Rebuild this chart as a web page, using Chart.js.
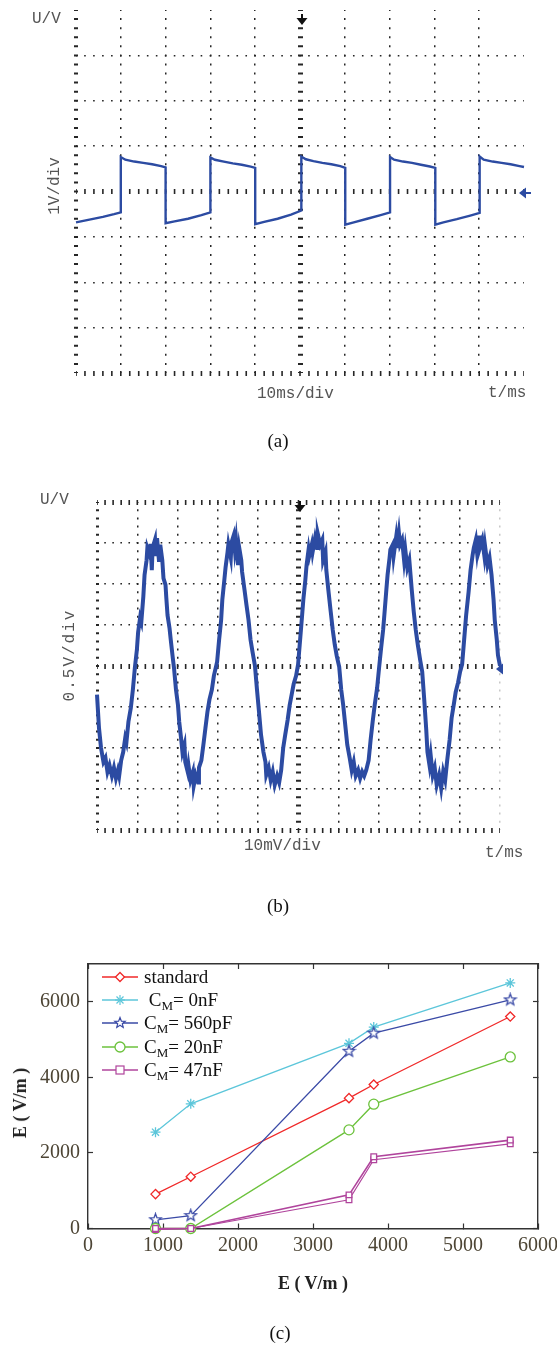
<!DOCTYPE html>
<html>
<head>
<meta charset="utf-8">
<title>Oscilloscope traces and field response</title>
<script src="https://cdn.jsdelivr.net/npm/chart.js@4.4.0/dist/chart.umd.min.js"></script>
<style>
  html, body { margin: 0; padding: 0; background: #fff; }
  #page { position: relative; width: 557px; height: 1345px; overflow: hidden; }
  canvas { position: absolute; left: 0; }
  .lbl { position: absolute; font-family: 'Liberation Mono', monospace; font-size: 16px; color: #555; white-space: nowrap; line-height: 1; }
  .rot { transform: translate(-50%, -50%) rotate(-90deg); }
  .cap { position: absolute; font-family: 'Liberation Serif', serif; font-size: 19px; color: #111; transform: translate(-50%, -50%); line-height: 1; white-space: nowrap; }
  .axt { position: absolute; font-family: 'Liberation Serif', serif; font-weight: bold; font-size: 18px; color: #222; white-space: nowrap; line-height: 1; }
  .legend { position: absolute; left: 102px; top: 965px; font-family: 'Liberation Serif', serif; font-size: 19px; color: #111; }
  .legend .row { height: 23.3px; display: flex; align-items: center; white-space: nowrap; }
  .legend svg { width: 36px; height: 14px; margin-right: 6px; flex: none; }
  .legend sub { font-size: 13px; vertical-align: -4px; line-height: 0; }
  .mk { position: absolute; }
</style>
</head>
<body>
<div id="page">
  <canvas id="chartA" width="557" height="460" style="top:0px"></canvas>
  <canvas id="chartB" width="557" height="460" style="top:460px"></canvas>
  <canvas id="chartC" width="557" height="425" style="top:920px"></canvas>

  <!-- panel (a) texts -->
  <div class="lbl" style="left:32px; top:11px;">U/V</div>
  <div class="lbl rot" style="left:55px; top:186px;">1V/div</div>
  <div class="lbl" style="left:257px; top:386px;">10ms/div</div>
  <div class="lbl" style="left:488px; top:385px;">t/ms</div>
  <div class="cap" style="left:278px; top:440px;">(a)</div>
  <svg class="mk" style="left:296px; top:14px" width="12" height="12" viewBox="0 0 12 12"><rect x="5" y="0" width="2" height="5" fill="#111"/><polygon points="0.5,4 11.5,4 6,11" fill="#111"/></svg>
  <svg class="mk" style="left:518px; top:187px" width="14" height="12" viewBox="0 0 14 12"><polygon points="1,6 8,0.5 8,11.5" fill="#2c4ba2"/><rect x="7" y="5" width="6" height="2" fill="#2c4ba2"/></svg>

  <!-- panel (b) texts -->
  <div class="lbl" style="left:40px; top:492px;">U/V</div>
  <div class="lbl rot" style="left:70px; top:655px; letter-spacing:2px;">0.5V/div</div>
  <div class="lbl" style="left:244px; top:838px;">10mV/div</div>
  <div class="lbl" style="left:485px; top:845px;">t/ms</div>
  <div class="cap" style="left:278px; top:905px;">(b)</div>
  <svg class="mk" style="left:294px; top:501px" width="12" height="12" viewBox="0 0 12 12"><rect x="5" y="0" width="2" height="5" fill="#111"/><polygon points="0.5,4 11.5,4 6,11" fill="#111"/></svg>
  <svg class="mk" style="left:495px; top:663px" width="10" height="12" viewBox="0 0 10 12"><polygon points="1,6 8,0.5 8,11.5" fill="#2c4ba2"/></svg>

  <!-- panel (c) texts -->
  <div class="axt rot" style="left:20px; top:1103px;">E ( V/m )</div>
  <div class="axt" style="left:313px; top:1283px; transform:translate(-50%,-50%);">E ( V/m )</div>
  <div class="cap" style="left:280px; top:1332px;">(c)</div>

  <div class="legend">
    <div class="row"><svg viewBox="0 0 36 14"><line x1="0" y1="7" x2="36" y2="7" stroke="#f02828" stroke-width="1.4"/><polygon points="18,2.5 22.5,7 18,11.5 13.5,7" fill="#fff" stroke="#f02828" stroke-width="1.3"/></svg><span>standard</span></div>
    <div class="row"><svg viewBox="0 0 36 14"><line x1="0" y1="7" x2="36" y2="7" stroke="#5cc6da" stroke-width="1.4"/><g stroke="#5cc6da" stroke-width="1.2"><line x1="18" y1="2" x2="18" y2="12"/><line x1="13" y1="7" x2="23" y2="7"/><line x1="14.5" y1="3.5" x2="21.5" y2="10.5"/><line x1="14.5" y1="10.5" x2="21.5" y2="3.5"/></g></svg><span>&nbsp;C<sub>M</sub>= 0nF</span></div>
    <div class="row"><svg viewBox="0 0 36 14"><line x1="0" y1="7" x2="36" y2="7" stroke="#3a4aa6" stroke-width="1.4"/><polygon points="18,1.5 19.4,5.1 23.2,5.3 20.3,7.7 21.2,11.4 18,9.3 14.8,11.4 15.7,7.7 12.8,5.3 16.6,5.1" fill="#fff" stroke="#3a4aa6" stroke-width="1.2"/></svg><span>C<sub>M</sub>= 560pF</span></div>
    <div class="row"><svg viewBox="0 0 36 14"><line x1="0" y1="7" x2="36" y2="7" stroke="#6cc23c" stroke-width="1.4"/><circle cx="18" cy="7" r="5" fill="#fff" stroke="#6cc23c" stroke-width="1.3"/></svg><span>C<sub>M</sub>= 20nF</span></div>
    <div class="row"><svg viewBox="0 0 36 14"><line x1="0" y1="7" x2="36" y2="7" stroke="#b0449c" stroke-width="1.4"/><rect x="14" y="3" width="8" height="8" fill="#fff" stroke="#b0449c" stroke-width="1.2"/></svg><span>C<sub>M</sub>= 47nF</span></div>
  </div>
</div>

<script>
// (a) square-wave trace: time in ms (10 ms/div), voltage in V (1 V/div)
const aTime = [0, 3, 6, 8.5, 10, 10, 11, 13, 15, 17, 19, 20, 20, 22, 25, 28, 30, 30,
  31, 33, 35, 37, 39, 40, 40, 42, 45, 48, 50.3, 50.3, 51.3, 53, 55, 57, 59, 60.1, 60.1,
  62, 65, 68, 70.1, 70.1, 71, 73, 75, 77, 79, 80.2, 80.2, 82, 85, 88, 90.1, 90.1,
  91, 93, 95, 97, 99, 100];
const aVolt = [-0.68, -0.62, -0.56, -0.50, -0.46, 0.76, 0.70, 0.66, 0.63, 0.60, 0.56, 0.53, -0.70, -0.66, -0.60, -0.52, -0.46, 0.75,
  0.70, 0.66, 0.62, 0.59, 0.55, 0.52, -0.72, -0.67, -0.60, -0.51, -0.42, 0.77, 0.71, 0.67, 0.63, 0.60, 0.56, 0.52, -0.73,
  -0.68, -0.60, -0.52, -0.46, 0.76, 0.70, 0.66, 0.63, 0.59, 0.55, 0.52, -0.73, -0.68, -0.61, -0.53, -0.47, 0.77,
  0.70, 0.66, 0.63, 0.60, 0.56, 0.54];

// (b) noisy sine trace: time in ms, voltage in V (0.5 V/div)
const bTime = [0, 0.5, 1.0, 1.6, 2.1, 2.6, 3.1, 3.7, 4.2, 4.7, 5.2, 5.5, 6.0, 6.5, 7.0, 7.3, 7.8, 8.4, 8.9, 9.4,
  9.9, 10.2, 10.7, 11.0, 11.5, 11.8, 12.3, 12.5, 13.1, 13.3, 13.6, 13.8, 14.4, 14.6, 14.9, 15.4, 15.7, 16.2, 16.5,
  17.0, 17.2, 17.5, 18.0, 18.3, 18.8, 19.1, 19.6, 20.1, 20.4, 20.9, 21.2, 21.7, 21.9, 22.5, 22.7, 23.2, 23.8, 24.0,
  24.5, 25.1, 25.3, 25.9, 26.4, 26.9, 27.4, 27.9, 28.5, 29.0, 29.8, 30.3, 30.8, 31.1, 31.6, 31.9, 32.4, 32.6, 33.2,
  33.4, 33.9, 34.2, 34.5, 35.0, 35.3, 35.8, 36.0, 36.6, 37.1, 37.6, 38.1, 38.6, 39.2, 39.7, 40.2, 40.7, 41.3, 41.8,
  42.0, 42.6, 43.1, 43.6, 44.1, 44.7, 45.2, 45.7, 46.2, 46.7, 47.3, 47.8, 48.3, 48.8, 49.4, 49.9, 50.4, 50.9, 51.2,
  51.7, 52.0, 52.5, 52.7, 53.3, 53.5, 54.1, 54.6, 54.8, 55.4, 55.9, 56.1, 56.7, 56.9, 57.4, 58.0, 58.5, 59.0, 59.5,
  60.1, 60.6, 61.1, 61.6, 62.1, 62.7, 63.2, 63.7, 64.2, 64.8, 65.3, 65.8, 66.3, 66.8, 67.4, 67.9, 68.4, 68.9, 69.5,
  70.0, 70.5, 71.0, 71.3, 71.8, 72.1, 72.6, 72.8, 73.4, 73.6, 74.2, 74.4, 74.9, 75.2, 75.7, 76.2, 76.5, 77.0, 77.5,
  78.1, 78.6, 79.1, 79.6, 80.2, 80.7, 81.2, 81.7, 82.0, 82.5, 82.8, 83.3, 83.8, 84.3, 84.9, 85.4, 85.9, 86.4, 86.9,
  87.5, 88.0, 88.5, 89.0, 89.6, 90.1, 90.6, 91.1, 91.6, 92.2, 92.7, 93.2, 93.5, 94.0, 94.3, 94.8, 95.0, 95.6, 96.1,
  96.3, 96.9, 97.4, 97.9, 98.4, 98.7, 99.2, 99.5, 100];
const bVolt = [-0.35, -0.76, -1.00, -1.17, -1.12, -1.29, -1.21, -1.34, -1.24, -1.37, -1.27, -1.34, -1.15, -1.05, -0.88, -0.93, -0.68, -0.51, -0.29, -0.02,
  0.20, 0.41, 0.59, 0.54, 0.85, 1.11, 1.29, 1.44, 1.35, 1.49, 1.17, 1.44, 1.54, 1.34, 1.56, 1.27, 1.48, 1.29, 1.07,
  0.99, 0.83, 0.62, 0.46, 0.32, 0.10, -0.02, -0.29, -0.48, -0.68, -0.90, -1.05, -0.96, -1.17, -1.29, -1.21, -1.39, -1.29, -1.46,
  -1.33, -1.42, -1.24, -1.15, -0.96, -0.76, -0.56, -0.41, -0.29, -0.12, 0.05, 0.32, 0.56, 0.81, 1.05, 1.20, 1.39, 1.48, 1.32,
  1.51, 1.59, 1.42, 1.54, 1.23, 1.44, 1.29, 1.15, 0.93, 0.74, 0.56, 0.32, 0.17, 0, -0.29, -0.56, -0.84, -1.05, -1.17,
  -1.33, -1.24, -1.39, -1.29, -1.45, -1.34, -1.42, -1.27, -1.00, -0.84, -0.66, -0.48, -0.35, -0.22, -0.12, 0.02, 0.32, 0.62, 0.81,
  1.05, 1.23, 1.42, 1.35, 1.48, 1.39, 1.56, 1.44, 1.61, 1.48, 1.54, 1.29, 1.39, 1.17, 0.93, 0.66, 0.44, 0.26, 0.12,
  -0.01, -0.29, -0.48, -0.72, -0.96, -1.12, -1.27, -1.17, -1.34, -1.27, -1.37, -1.29, -1.34, -1.27, -1.15, -0.90, -0.68, -0.48, -0.27,
  -0.02, 0.22, 0.44, 0.62, 0.93, 1.11, 1.32, 1.42, 1.48, 1.34, 1.56, 1.44, 1.63, 1.48, 1.54, 1.29, 1.42, 1.20, 1.29,
  0.93, 0.66, 0.44, 0.26, 0.07, -0.07, -0.41, -0.78, -1.05, -1.21, -1.09, -1.33, -1.24, -1.45, -1.33, -1.49, -1.29, -1.39, -1.15,
  -0.90, -0.63, -0.48, -0.32, -0.20, -0.07, 0.02, 0.32, 0.62, 0.90, 1.17, 1.35, 1.44, 1.54, 1.39, 1.59, 1.44, 1.54, 1.35,
  1.46, 1.23, 1.32, 1.11, 0.81, 0.56, 0.32, 0.13, 0];

// (c) measured field E (V/m) against applied field E (V/m)
const seriesNames = ['standard', 'CM=0nF', 'CM=560pF', 'CM=20nF', 'CM=47nF'];
const eApplied = [900, 1370, 3480, 3810, 5630];
const eStandard = [910, 1370, 3450, 3810, 5610];
const eCm0 = [2550, 3300, 4900, 5330, 6500];
const eCm560 = [230, 340, 4690, 5170, 6050];
const eCm20 = [0, 0, 2610, 3290, 4540];
const eCm47 = [0, 0, 890, 1900, 2340];
const eCm47Repeat = [-30, 0, 760, 1820, 2240];
const xTicksC = [0, 1000, 2000, 3000, 4000, 5000, 6000];
const yTicksC = [0, 2000, 4000, 6000];

Chart.defaults.font.family = "'Liberation Serif', serif";

const INK = '#262626';
const TRACE = '#2c4ba2';

function scopeChart(id, time, volt, cfg) {
  const w = 557 - cfg.pad.left - cfg.pad.right;
  const h = cfg.height - cfg.pad.top - cfg.pad.bottom;
  const subX = w / 50, subY = h / 40;
  return new Chart(document.getElementById(id), {
    type: 'line',
    data: {
      datasets: [{
        data: time.map((t, i) => ({ x: t, y: volt[i] })),
        borderColor: TRACE, borderWidth: cfg.trace, pointRadius: 0, tension: 0, clip: 4
      }]
    },
    options: {
      responsive: false, animation: false, events: [],
      layout: { padding: cfg.pad },
      plugins: { legend: { display: false }, tooltip: { enabled: false } },
      scales: {
        x: {
          type: 'linear', min: 0, max: 100,
          ticks: { display: false, stepSize: 10 },
          grid: {
            drawTicks: false,
            color: c => (c.tick ? cfg.xColor(c.tick.value) : INK),
            lineWidth: c => (c.tick ? cfg.xWidth(c.tick.value) : 1)
          },
          border: { display: false, dash: [2, subY - 2], dashOffset: 1 }
        },
        y: {
          type: 'linear', min: cfg.yMin, max: -cfg.yMin,
          ticks: { display: false, stepSize: cfg.yStep },
          grid: {
            drawTicks: false,
            color: INK,
            lineWidth: c => (c.tick ? cfg.yWidth(c.tick.value) : 1)
          },
          border: { display: false, dash: [1.6, subX - 1.6], dashOffset: 0.8 }
        }
      }
    }
  });
}

// (a) 10 x 8 divisions
scopeChart('chartA', aTime, aVolt, {
  height: 460, pad: { left: 76, right: 33, top: 10, bottom: 87 },
  yMin: -4, yStep: 1, trace: 2.4,
  xColor: v => INK,
  xWidth: v => (v === 0 ? 4 : v === 50 ? 5 : v === 100 ? 0 : 1.5),
  yWidth: v => (v === 0 || v === -4 ? 5 : v === 4 ? 0 : 1.5)
});

// (b) 10 x 8 divisions
scopeChart('chartB', bTime, bVolt, {
  height: 460, pad: { left: 97, right: 57, top: 42, bottom: 90 },
  yMin: -2, yStep: 0.5, trace: 4,
  xColor: v => (v === 100 ? '#c8c8c8' : INK),
  xWidth: v => (v === 0 ? 3 : v === 50 ? 5 : 1.5),
  yWidth: v => (v === 0 || v === -2 || v === 2 ? 5 : 1.5)
});

// pentagram marker for the 560 pF series
function pentagram(color) {
  const c = document.createElement('canvas');
  c.width = c.height = 15;
  const g = c.getContext('2d');
  g.strokeStyle = color; g.fillStyle = '#fff'; g.lineWidth = 1.3;
  g.beginPath();
  for (let k = 0; k < 10; k++) {
    const r = k % 2 ? 2.5 : 6;
    const a = -Math.PI / 2 + k * Math.PI / 5;
    g.lineTo(7.5 + r * Math.cos(a), 7.5 + r * Math.sin(a));
  }
  g.closePath(); g.fill(); g.stroke();
  return c;
}

function fieldSet(label, values, color, style, radius, order, lw) {
  return {
    label: label,
    data: eApplied.map((x, i) => ({ x: x, y: values[i] })),
    borderColor: color, backgroundColor: '#fff',
    borderWidth: lw || 1.3, pointBorderWidth: 1.3,
    pointStyle: style, pointRadius: radius, pointBorderColor: color, pointBackgroundColor: '#fff',
    tension: 0, clip: false, order: order
  };
}

const boxTicks = { drawOnChartArea: false, drawTicks: true, tickLength: -5, tickColor: '#333', tickWidth: 1.2 };
const boxBorder = { display: true, color: '#333', width: 1.4 };
const tickFont = { family: "'Liberation Serif', serif", size: 20 };
const tickInk = '#4d4535';

new Chart(document.getElementById('chartC'), {
  type: 'line',
  data: {
    datasets: [
      fieldSet(seriesNames[0], eStandard, '#f02828', 'rectRot', 4.6, 4),
      fieldSet(seriesNames[1], eCm0, '#5cc6da', 'star', 5, 3),
      fieldSet(seriesNames[2], eCm560, '#3a4aa6', pentagram('#3a4aa6'), 6, 2),
      fieldSet(seriesNames[3], eCm20, '#6cc23c', 'circle', 5, 1),
      fieldSet(seriesNames[4], eCm47, '#b0449c', 'rect', 4, 0, 1.6),
      fieldSet(seriesNames[4], eCm47Repeat, '#b0449c', 'rect', 4, 0, 1.2)
    ]
  },
  options: {
    responsive: false, animation: false, events: [],
    layout: { padding: { left: 0, right: 19, top: 44, bottom: 0 } },
    plugins: { legend: { display: false }, tooltip: { enabled: false } },
    scales: {
      x: {
        type: 'linear', position: 'bottom', min: 0, max: 6000,
        afterBuildTicks: s => { s.ticks = xTicksC.map(v => ({ value: v })); },
        ticks: { color: tickInk, font: tickFont, padding: 10, maxRotation: 0, autoSkip: false, callback: v => String(v) },
        grid: boxTicks, border: boxBorder,
        afterFit: s => { s.height = 116.5; s.paddingRight = 0; s.paddingLeft = 0; }
      },
      x2: {
        type: 'linear', position: 'top', min: 0, max: 6000,
        afterBuildTicks: s => { s.ticks = xTicksC.map(v => ({ value: v })); },
        ticks: { display: false },
        grid: boxTicks, border: boxBorder,
        afterFit: s => { s.height = 0; s.paddingRight = 0; s.paddingLeft = 0; }
      },
      y: {
        type: 'linear', position: 'left', min: 0, max: 7000,
        afterBuildTicks: s => { s.ticks = yTicksC.map(v => ({ value: v })); },
        ticks: { color: tickInk, font: tickFont, padding: 13, callback: v => String(v) },
        grid: boxTicks, border: boxBorder,
        afterFit: s => { s.width = 88; s.paddingTop = 0; s.paddingBottom = 0; }
      },
      y2: {
        type: 'linear', position: 'right', min: 0, max: 7000,
        afterBuildTicks: s => { s.ticks = yTicksC.map(v => ({ value: v })); },
        ticks: { display: false },
        grid: boxTicks, border: boxBorder,
        afterFit: s => { s.width = 0; s.paddingTop = 0; s.paddingBottom = 0; }
      }
    }
  }
});
</script>
</body>
</html>
